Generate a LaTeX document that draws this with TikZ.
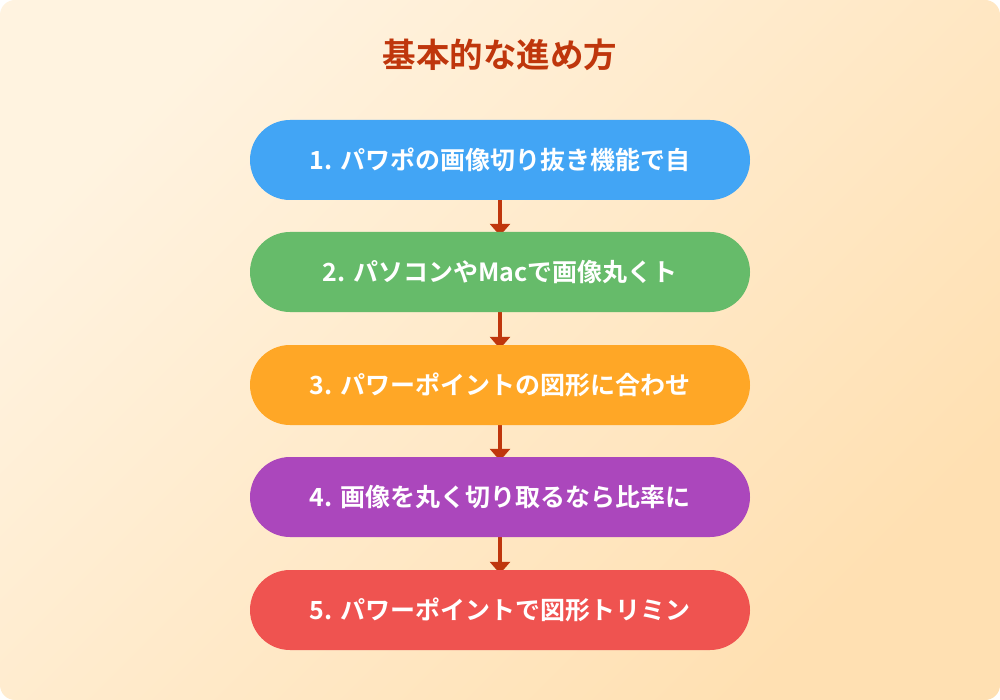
\documentclass[tikz,border=0pt]{standalone}
\usepackage{fontspec}
\newfontfamily\cjk{Noto Sans CJK JP}[BoldFont={Noto Sans CJK JP Bold}]
\usepackage{tikz}
\usetikzlibrary{arrows.meta,backgrounds,positioning}
\definecolor{bgtop}{HTML}{FFF3E0}
\definecolor{bgbot}{HTML}{FFE0B2}
\definecolor{titlered}{HTML}{BF360C}
\definecolor{pblue}{HTML}{42A5F5}
\definecolor{pgreen}{HTML}{66BB6A}
\definecolor{porange}{HTML}{FFA726}
\definecolor{ppurple}{HTML}{AB47BC}
\definecolor{pred}{HTML}{EF5350}
\pgfdeclarelayer{back}
\pgfsetlayers{back,background,main}
\tikzset{>=stealth,
	pill/.style={% Rounded step boxes
		shape=rectangle,
		rounded corners=40pt,
		minimum width=500pt,
		minimum height=80pt,
		inner sep=0pt,
		text=white,
		font=\cjk\bfseries\fontsize{25}{29}\selectfont,
		align=center
	},
	flow/.style={
		draw=titlered,
		line width=4pt,
		-{Triangle[width=20pt,length=12pt]},
		shorten >=-4pt
	}
}
\begin{document}
\begin{tikzpicture}[x=1pt,y=-1pt]
                        \useasboundingbox (0,0) rectangle (1000,700);
                        \begin{pgfonlayer}{back}
                        \shade [rounded corners=15pt, top color=bgtop, bottom color=bgbot, shading angle=45] (0,0) rectangle (1000,700);
                        \end{pgfonlayer}
                        \node [text=titlered, font=\cjk\bfseries\fontsize{33.5}{38}\selectfont] (title) at (500,55) {基本的な進め方};
                        \node [pill, fill=pblue] (s1) at (500,160) {1. パワポの画像切り抜き機能で自};
                        \node [pill, fill=pgreen] (s2) at (500,272) {2. パソコンやMacで画像丸くト};
                        \node [pill, fill=porange] (s3) at (500,385) {3. パワーポイントの図形に合わせ};
                        \node [pill, fill=ppurple] (s4) at (500,497) {4. 画像を丸く切り取るなら比率に};
                        \node [pill, fill=pred] (s5) at (500,610) {5. パワーポイントで図形トリミン};
                        \begin{scope}[on background layer]
                        \draw [flow] (s1) -- (s2);
                        \draw [flow] (s2) -- (s3);
                        \draw [flow] (s3) -- (s4);
                        \draw [flow] (s4) -- (s5);
                        \end{scope}
                \end{tikzpicture}
\end{document}
